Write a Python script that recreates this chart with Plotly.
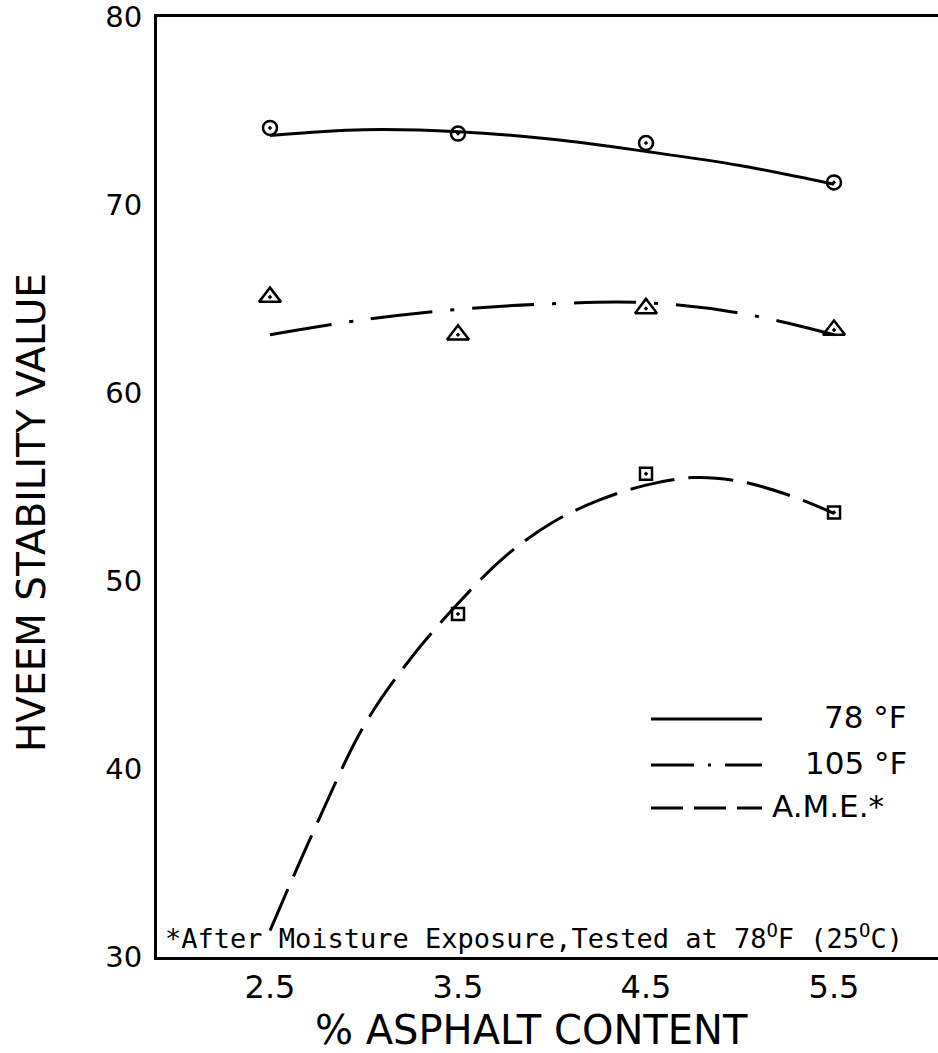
import plotly.graph_objects as go

# Measured stability values at each asphalt content
asphalt_pct = [2.5, 3.5, 4.5, 5.5]
stab_78F = [74.1, 73.8, 73.3, 71.2]
stab_105F = [65.1, 63.1, 64.5, 63.35]
ame_pct = [3.5, 4.5, 5.5]
stab_ame = [48.25, 55.7, 53.65]

# Smoothed trend curves drawn through the data
curve_x = [2.5, 3.0, 3.5, 4.0, 4.5, 5.0, 5.5]
curve_78F = [73.7, 74.0, 73.9, 73.5, 72.85, 72.1, 71.1]
curve_105F = [63.1, 63.9, 64.45, 64.75, 64.8, 64.25, 63.1]
curve_ame_x = [2.5, 2.75, 3.0, 3.25, 3.5, 3.75, 4.0, 4.25, 4.5, 4.75, 5.0, 5.25, 5.5]
curve_ame = [31.4, 37.1, 42.3, 45.9, 48.8, 51.3, 53.1, 54.3, 55.1, 55.5, 55.3, 54.6, 53.6]

x_ticks = [2.5, 3.5, 4.5, 5.5]
y_ticks = [30, 40, 50, 60, 70, 80]

legend_labels = ["78 \u00b0F", "105 \u00b0F", "A.M.E.*"]
footnote = "*After Moisture Exposure,Tested at 78<sup>O</sup>F (25<sup>O</sup>C)"
x_title = "% ASPHALT CONTENT"
y_title = "HVEEM STABILITY VALUE"

W, H = 938, 1053
ML, MR, MT, MB = 157, 0, 17, 96
PW, PH = W - ML - MR, H - MT - MB

def px_x(p):
    return (p - ML) / PW

def px_y(p):
    return (H - MB - p) / PH

DASHDOT = "62px,18px,4px,18px"
DASH = "45px,14px"
LW = 3

fig = go.Figure()

fig.add_trace(go.Scatter(x=curve_x, y=curve_78F, mode="lines", line=dict(color="black", width=LW, shape="spline"), hoverinfo="skip"))
fig.add_trace(go.Scatter(x=curve_x, y=curve_105F, mode="lines", line=dict(color="black", width=LW, shape="spline", dash=DASHDOT), hoverinfo="skip"))
fig.add_trace(go.Scatter(x=curve_ame_x, y=curve_ame, mode="lines", line=dict(color="black", width=LW, shape="spline", dash=DASH), hoverinfo="skip"))

fig.add_trace(go.Scatter(x=asphalt_pct, y=stab_78F, mode="markers",
                         marker=dict(symbol="circle-open-dot", size=14, color="black", line=dict(width=2.5, color="black"))))
fig.add_trace(go.Scatter(x=asphalt_pct, y=stab_105F, mode="markers",
                         marker=dict(symbol="triangle-up-open-dot", size=19, color="black", line=dict(width=2.5, color="black"))))
fig.add_trace(go.Scatter(x=ame_pct, y=stab_ame, mode="markers",
                         marker=dict(symbol="square-open-dot", size=12, color="black", line=dict(width=2.5, color="black"))))

# Legend drawn as line samples with text beside them
shapes = []
samples = [(719, None), (765, "43px,14px,3px,14px"), (808, "32px,11px")]
for py, dash in samples:
    ln = dict(color="black", width=LW)
    if dash:
        ln["dash"] = dash
    shapes.append(dict(type="line", xref="paper", yref="paper",
                       x0=px_x(651), x1=px_x(762), y0=px_y(py), y1=px_y(py), line=ln))

annotations = []
legend_font = dict(family="DejaVu Sans", size=31, color="black")
annotations.append(dict(text=legend_labels[0], xref="paper", yref="paper", x=px_x(909), y=px_y(717),
                        xanchor="right", yanchor="middle", showarrow=False, font=legend_font))
annotations.append(dict(text=legend_labels[1], xref="paper", yref="paper", x=px_x(909), y=px_y(763),
                        xanchor="right", yanchor="middle", showarrow=False, font=legend_font))
annotations.append(dict(text=legend_labels[2], xref="paper", yref="paper", x=px_x(770), y=px_y(806),
                        xanchor="left", yanchor="middle", showarrow=False, font=legend_font))

annotations.append(dict(text=footnote, xref="paper", yref="paper", x=px_x(163), y=px_y(936),
                        xanchor="left", yanchor="middle", showarrow=False,
                        font=dict(family="DejaVu Sans Mono", size=27, color="black")))

annotations.append(dict(text=x_title, xref="paper", yref="paper", x=px_x(531), y=px_y(1030),
                        xanchor="center", yanchor="middle", showarrow=False,
                        font=dict(family="DejaVu Sans", size=40, color="black")))
annotations.append(dict(text=y_title, xref="paper", yref="paper", x=px_x(31), y=px_y(513),
                        xanchor="center", yanchor="middle", showarrow=False, textangle=-90,
                        font=dict(family="DejaVu Sans", size=39, color="black")))

x0 = 2.5 - (270 - ML) / 188.0
x1 = 2.5 + (W - MR - 270) / 188.0

fig.update_layout(
    width=W, height=H,
    margin=dict(l=ML, r=MR, t=MT, b=MB, autoexpand=False),
    paper_bgcolor="white", plot_bgcolor="white",
    showlegend=False,
    shapes=shapes, annotations=annotations,
    xaxis=dict(range=[x0, x1], tickvals=x_ticks, ticktext=[str(v) for v in x_ticks],
               showgrid=False, zeroline=False, showline=True, linecolor="black", linewidth=LW,
               mirror=True, ticks="", ticklabelstandoff=0, automargin=False,
               tickfont=dict(family="DejaVu Sans", size=32, color="black")),
    yaxis=dict(range=[30, 80], tickvals=y_ticks, ticktext=[str(v) for v in y_ticks],
               showgrid=False, zeroline=False, showline=True, linecolor="black", linewidth=LW,
               mirror=False, ticks="", ticklabelstandoff=6, ticklabeloverflow="allow", automargin=False,
               tickfont=dict(family="DejaVu Sans", size=29, color="black")),
)

fig.write_html("out.html")
